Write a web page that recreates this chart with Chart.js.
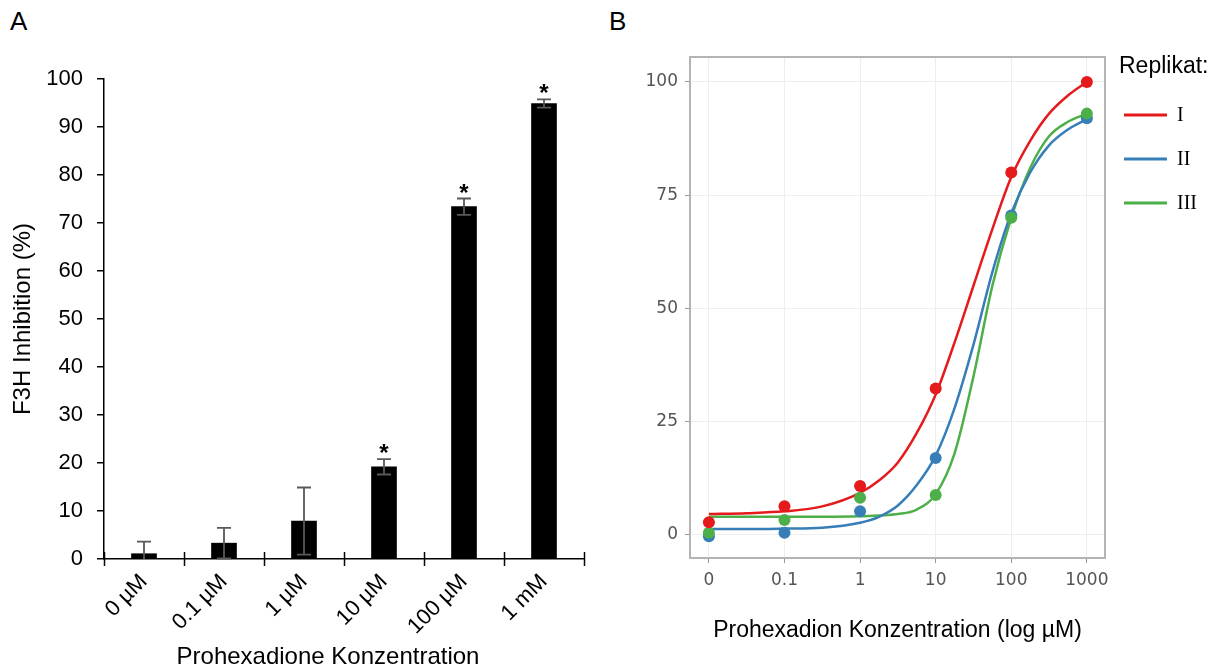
<!DOCTYPE html>
<html>
<head>
<meta charset="utf-8">
<script src="https://cdn.jsdelivr.net/npm/chart.js@4.4.1/dist/chart.umd.min.js"></script>
<style>
    body { margin: 0; background: #fff; width: 1220px; height: 669px; position: relative; overflow: hidden; font-family: "Liberation Sans", Arial, sans-serif; }
    .panel { position: absolute; top: 6px; font-size: 26px; color: #000; }
    #chartA { position: absolute; left: 0; top: 0; }
    #chartB { position: absolute; left: 620px; top: 0; }
    #titleA { position: absolute; left: 128px; width: 400px; top: 642px; text-align: center; font-size: 24px; line-height: 28px; color: #000; }
</style>
</head>
<body>
<div class="panel" style="left:10px">A</div>
<div class="panel" style="left:609px">B</div>
<canvas id="chartA" width="610" height="669"></canvas>
<canvas id="chartB" width="600" height="669"></canvas>
<div id="titleA">Prohexadione Konzentration</div>
<script>
(() => {
    "use strict";

    // Panel A: Balken mit Standardabweichung
    const doseLabels = ["0 µM", "0.1 µM", "1 µM", "10 µM", "100 µM", "1 mM"];
    const inhibitionMean = [1.1, 3.3, 7.9, 19.2, 73.4, 94.9];
    const inhibitionSd = [2.5, 3.2, 7.0, 1.6, 1.7, 0.85];
    const significant = [false, false, false, true, true, true];

    // Panel B: Replikate und Kurvenanpassung
    const logTickLabels = ["0", "0.1", "1", "10", "100", "1000"];
    const replicateNames = ["I", "II", "III"];
    const replicateColors = ["#e41a1c", "#377eb8", "#4daf4a"];
    const measuredI = [2.8, 6.3, 10.8, 32.3, 80, 100];
    const measuredII = [-0.3, 0.5, 5.2, 17, 70.5, 92];
    const measuredIII = [0.5, 3.3, 8.2, 8.8, 70, 93];
    const fitPos = [0, 0.5, 1, 1.5, 2, 2.25, 2.5, 2.75, 3, 3.25, 3.5, 3.75, 4, 4.25, 4.5, 4.75, 5];
    const fitI = [4.6, 4.8, 5.2, 6.3, 9.3, 12, 16, 22.5, 31, 42.5, 55, 67.5, 79, 87, 93, 97, 100];
    const fitII = [1.3, 1.3, 1.4, 1.6, 2.7, 4, 6.5, 11, 17.5, 28, 42, 58, 71, 80, 86, 89.5, 91.8];
    const fitIII = [4.0, 4.0, 4.0, 4.0, 4.1, 4.3, 4.6, 5.6, 9, 18, 35, 55, 70, 81, 88, 91.2, 93];

    const sans = "'Liberation Sans', Arial, sans-serif";

    const errorBars = {
        id: "errorBars",
        afterDatasetsDraw(chart) {
            const { ctx, chartArea } = chart;
            const xs = chart.scales.x;
            const ys = chart.scales.y;
            const meta = chart.getDatasetMeta(0);
            ctx.save();
            // Teilstriche zwischen den Kategorien, über die Achse hinweg
            ctx.strokeStyle = "#000";
            ctx.lineWidth = 1.5;
            for (let i = 0; i <= doseLabels.length; i++) {
                const x = Math.round(xs.getPixelForValue(i - 0.5)) + 0.5;
                ctx.beginPath();
                ctx.moveTo(x, chartArea.bottom - 7);
                ctx.lineTo(x, chartArea.bottom + 7);
                ctx.stroke();
            }
            ctx.strokeStyle = "#595959";
            ctx.lineWidth = 1.8;
            ctx.fillStyle = "#000";
            ctx.font = "bold 24px " + sans;
            ctx.textAlign = "center";
            meta.data.forEach((bar, i) => {
                const top = ys.getPixelForValue(inhibitionMean[i] + inhibitionSd[i]);
                const bot = Math.min(ys.getPixelForValue(inhibitionMean[i] - inhibitionSd[i]), chartArea.bottom);
                ctx.beginPath();
                ctx.moveTo(bar.x, top);
                ctx.lineTo(bar.x, bot);
                ctx.moveTo(bar.x - 7, top);
                ctx.lineTo(bar.x + 7, top);
                if (bot < chartArea.bottom) {
                    ctx.moveTo(bar.x - 7, bot);
                    ctx.lineTo(bar.x + 7, bot);
                }
                ctx.stroke();
                if (significant[i]) {
                    ctx.fillText("*", bar.x, top + 2);
                }
            });
            ctx.restore();
        },
    };

    new Chart(document.getElementById("chartA"), {
        type: "bar",
        data: {
            labels: doseLabels,
            datasets: [
                {
                    data: inhibitionMean,
                    backgroundColor: "#000",
                    barThickness: 25,
                },
            ],
        },
        options: {
            responsive: false,
            animation: false,
            layout: { padding: { top: 79, right: 26, left: 0, bottom: 0 } },
            plugins: { legend: { display: false }, tooltip: { enabled: false } },
            scales: {
                x: {
                    grid: { display: false },
                    border: { color: "#000", width: 1.5 },
                    ticks: {
                        color: "#000",
                        font: { family: sans, size: 22 },
                        minRotation: 45,
                        maxRotation: 45,
                        padding: 2,
                    },
                    afterFit: (s) => { s.height = 110; },
                },
                y: {
                    min: 0,
                    max: 100,
                    ticks: { stepSize: 10, color: "#000", font: { family: sans, size: 22 }, padding: 14 },
                    grid: { drawOnChartArea: false, color: "#000", tickColor: "#000", tickLength: 7, lineWidth: 1.5 },
                    border: { color: "#000", width: 1.5 },
                    title: {
                        display: true,
                        text: "F3H Inhibition (%)",
                        color: "#000",
                        font: { family: sans, size: 24 },
                        padding: { top: 9, bottom: 0 },
                    },
                    afterFit: (s) => { s.width = 104; },
                },
            },
        },
        plugins: [errorBars],
    });

    const frameAndLegend = {
        id: "frameAndLegend",
        beforeDatasetsDraw(chart) {
            const { ctx, chartArea } = chart;
            ctx.save();
            ctx.strokeStyle = "#b4b4b4";
            ctx.lineWidth = 2;
            ctx.strokeRect(chartArea.left, chartArea.top, chartArea.right - chartArea.left, chartArea.bottom - chartArea.top);
            ctx.restore();
        },
        afterDraw(chart) {
            const { ctx, chartArea } = chart;
            const x0 = chartArea.right + 14;
            ctx.save();
            ctx.fillStyle = "#000";
            ctx.textBaseline = "middle";
            ctx.font = "23px " + sans;
            ctx.fillText("Replikat:", x0, 67);
            ctx.font = "20px 'Liberation Serif', 'Times New Roman', serif";
            replicateNames.forEach((name, k) => {
                const y = 115 + k * 44;
                ctx.strokeStyle = replicateColors[k];
                ctx.lineWidth = 3;
                ctx.beginPath();
                ctx.moveTo(x0 + 5, y);
                ctx.lineTo(x0 + 48, y);
                ctx.stroke();
                ctx.fillStyle = "#000";
                ctx.fillText(name, x0 + 58, y + 1);
            });
            ctx.restore();
        },
    };

    const fits = [fitI, fitII, fitIII];
    const measured = [measuredI, measuredII, measuredIII];
    const pointOrder = [0, 2, 1];

    const datasets = [];
    fits.forEach((vals, k) => {
        datasets.push({
            data: fitPos.map((x, i) => ({ x, y: vals[i] })),
            showLine: true,
            borderColor: replicateColors[k],
            borderWidth: 2.5,
            pointRadius: 0,
            cubicInterpolationMode: "monotone",
            order: 5 + k,
        });
    });
    measured.forEach((vals, k) => {
        datasets.push({
            data: vals.map((y, i) => ({ x: i, y })),
            showLine: false,
            pointRadius: 6,
            pointBorderWidth: 0,
            pointBackgroundColor: replicateColors[k],
            backgroundColor: replicateColors[k],
            order: pointOrder[k],
        });
    });

    const tickFont = { family: "'DejaVu Sans', Verdana, sans-serif", size: 17 };

    new Chart(document.getElementById("chartB"), {
        type: "scatter",
        data: { datasets },
        options: {
            responsive: false,
            animation: false,
            layout: { padding: { top: 57, right: 115, left: 0, bottom: 0 } },
            plugins: { legend: { display: false }, tooltip: { enabled: false } },
            scales: {
                x: {
                    type: "linear",
                    min: -0.25,
                    max: 5.24,
                    afterBuildTicks: (s) => { s.ticks = logTickLabels.map((_, i) => ({ value: i })); },
                    ticks: {
                        color: "#555",
                        font: tickFont,
                        padding: 7,
                        callback: (v, i) => logTickLabels[i],
                    },
                    grid: { color: "#eeeeee", tickColor: "#999", tickLength: 5, lineWidth: 1 },
                    border: { display: false },
                    title: {
                        display: true,
                        text: "Prohexadion Konzentration (log µM)",
                        color: "#000",
                        font: { family: sans, size: 23 },
                        padding: { top: 0, bottom: 25 },
                    },
                    afterFit: (s) => { s.height = 111; },
                },
                y: {
                    min: -5.1,
                    max: 105.5,
                    afterBuildTicks: (s) => { s.ticks = [0, 25, 50, 75, 100].map((v) => ({ value: v })); },
                    ticks: { color: "#555", font: tickFont, padding: 7 },
                    grid: { color: "#eeeeee", tickColor: "#999", tickLength: 5, lineWidth: 1 },
                    border: { display: false },
                    afterFit: (s) => { s.width = 70; },
                },
            },
        },
        plugins: [frameAndLegend],
    });
})();
</script>
</body>
</html>
